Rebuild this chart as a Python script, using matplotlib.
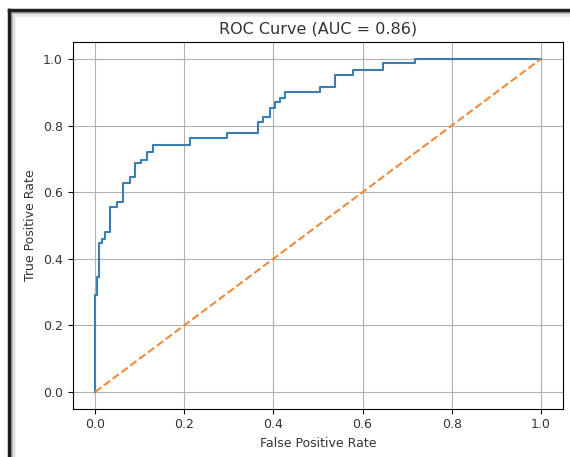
import matplotlib
matplotlib.use("Agg")
import matplotlib.pyplot as plt
from matplotlib.lines import Line2D

# ROC curve vertices
fpr = [0.0, 0.0, 0.005, 0.005, 0.01, 0.01, 0.016, 0.016, 0.022, 0.022,
       0.034, 0.034, 0.05, 0.05, 0.063, 0.063, 0.078, 0.078, 0.09, 0.09,
       0.104, 0.104, 0.116, 0.116, 0.13, 0.13, 0.213, 0.213, 0.296, 0.296,
       0.365, 0.365, 0.376, 0.376, 0.393, 0.393, 0.404, 0.404, 0.415, 0.415,
       0.426, 0.426, 0.504, 0.504, 0.538, 0.538, 0.579, 0.579, 0.646, 0.646,
       0.717, 0.717, 1.0]
tpr = [0.0, 0.29, 0.29, 0.345, 0.345, 0.447, 0.447, 0.46, 0.46, 0.48,
       0.48, 0.556, 0.556, 0.57, 0.57, 0.628, 0.628, 0.646, 0.646, 0.688,
       0.688, 0.697, 0.697, 0.72, 0.72, 0.742, 0.742, 0.763, 0.763, 0.778,
       0.778, 0.81, 0.81, 0.826, 0.826, 0.853, 0.853, 0.871, 0.871, 0.883,
       0.883, 0.9, 0.9, 0.916, 0.916, 0.952, 0.952, 0.967, 0.967, 0.988,
       0.988, 1.0, 1.0]
auc_value = 0.86

fig = plt.figure(figsize=(5.7, 4.57), dpi=100)
ax = fig.add_axes([0.1275, 0.1057, 0.8605, 0.8017])

ax.plot(fpr, tpr, color="#3a7db0", lw=1.5)
ax.plot([0, 1], [0, 1], linestyle="--", color="#f08a3a", lw=1.5)

ax.set_title(f"ROC Curve (AUC = {auc_value:.2f})", fontsize=11.5, color="#333333")
ax.set_xlabel("False Positive Rate", fontsize=9, color="#333333")
ax.set_ylabel("True Positive Rate", fontsize=9, color="#333333")
ax.tick_params(labelsize=9, labelcolor="#333333")
ax.grid(True)

# screenshot frame (top and left edges) with a soft inner shadow
for off, col, w in [(4, "#e6e6e6", 4), (2, "#b0b0b0", 2), (0, "#1e1e1e", 2.5)]:
    fig.add_artist(Line2D([(9 + off) / 570, 1], [1 - (10 + off) / 457] * 2,
                          transform=fig.transFigure, color=col, lw=w))
    fig.add_artist(Line2D([(9 + off) / 570] * 2, [0, 1 - (10 + off) / 457],
                          transform=fig.transFigure, color=col, lw=w))

fig.savefig("out.png", dpi=100)
